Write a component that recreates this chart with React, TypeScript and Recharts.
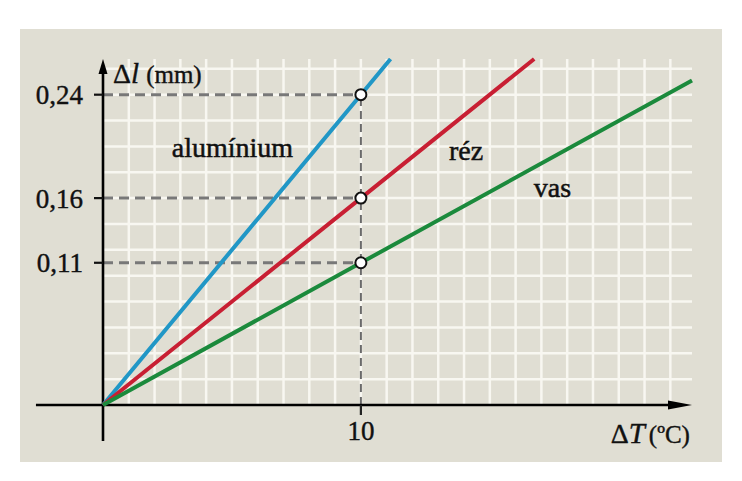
import React from 'react';
import {
  ComposedChart,
  Line,
  Scatter,
  XAxis,
  YAxis,
  CartesianGrid,
  ReferenceLine,
  ReferenceDot,
} from 'recharts';

// ---- data ----
const aluminium = [
  { t: 0, dl: 0 },
  { t: 10, dl: 0.24 },
  { t: 11.15, dl: 0.2676 },
];
const rez = [
  { t: 0, dl: 0 },
  { t: 10, dl: 0.16 },
  { t: 16.72, dl: 0.2676 },
];
const vas = [
  { t: 0, dl: 0 },
  { t: 10, dl: 0.11 },
  { t: 22.84, dl: 0.251 },
];
const marked = [
  { t: 10, dl: 0.24 },
  { t: 10, dl: 0.16 },
  { t: 10, dl: 0.11 },
];
const xTicks = [10];
const yTicks = [0.11, 0.16, 0.24];
const gridX = [1, 2, 3, 4, 5, 6, 7, 8, 9, 10, 11, 12, 13, 14, 15, 16, 17, 18, 19, 20, 21, 22];
const gridY = [0.02, 0.04, 0.06, 0.08, 0.1, 0.12, 0.14, 0.16, 0.18, 0.2, 0.22, 0.24, 0.26];
const seriesLabels = [
  { name: 'alumínium', t: 5.02, dl: 0.1918 },
  { name: 'réz', t: 14.08, dl: 0.1895 },
  { name: 'vas', t: 17.43, dl: 0.1609 },
];

const FONT = 'Liberation Serif, Times New Roman, serif';
const X_DOMAIN: [number, number] = [0, 22.84];
const Y_DOMAIN: [number, number] = [0, 0.2676];

const arrowShape = (headLen: number, headHalf: number) => (p: any) => {
  const { x1, y1, x2, y2 } = p;
  const dx = x2 - x1;
  const dy = y2 - y1;
  const L = Math.hypot(dx, dy) || 1;
  const ux = dx / L;
  const uy = dy / L;
  const bx = x2 - ux * headLen;
  const by = y2 - uy * headLen;
  const px = -uy;
  const py = ux;
  return (
    <g>
      <line x1={x1} y1={y1} x2={bx + ux * 2} y2={by + uy * 2} stroke="#000" strokeWidth={2.6} />
      <polygon
        points={`${x2},${y2} ${bx + px * headHalf},${by + py * headHalf} ${bx - px * headHalf},${by - py * headHalf}`}
        fill="#000"
      />
    </g>
  );
};

const textLabel = (name: string) => (props: any) => {
  const vb = props.viewBox || {};
  return (
    <text
      x={vb.x}
      y={vb.y}
      textAnchor="middle"
      style={{ fontFamily: FONT }}
      fontSize={28}
      fill="#111"
      stroke="#111"
      strokeWidth={0.5}
    >
      {name}
    </text>
  );
};

const dlLabel = (props: any) => {
  const vb = props.viewBox || {};
  return (
    <text x={vb.x} y={vb.y} textAnchor="start" style={{ fontFamily: FONT }} fill="#111" stroke="#111" strokeWidth={0.4}>
      <tspan fontSize={28}>Δ</tspan>
      <tspan fontSize={29} fontStyle="italic">l</tspan>
      <tspan fontSize={25} dx={7}>(mm)</tspan>
    </text>
  );
};

const dtLabel = (props: any) => {
  const vb = props.viewBox || {};
  return (
    <text x={vb.x} y={vb.y} textAnchor="end" style={{ fontFamily: FONT }} fill="#111" stroke="#111" strokeWidth={0.4}>
      <tspan fontSize={28}>Δ</tspan>
      <tspan fontSize={29} fontStyle="italic">T</tspan>
      <tspan fontSize={25} dx={4}>(ºC)</tspan>
    </text>
  );
};

const circleShape = (p: any) => (
  <circle cx={p.cx} cy={p.cy} r={5.5} fill="#fff" stroke="#111" strokeWidth={2} />
);

const fmt = (v: number) => v.toFixed(2).replace('.', ',');

const tickStyle = { fontSize: 27, fill: '#111', fontFamily: FONT, stroke: '#111', strokeWidth: 0.4 };

export default function App() {
  return (
    <div style={{ position: 'absolute', left: 0, top: 0, width: 742, height: 481, background: '#fff' }}>
      <div
        style={{
          position: 'absolute',
          left: 20,
          top: 29,
          width: 702,
          height: 433,
          background: '#e0ded3',
        }}
      />
      <div style={{ position: 'absolute', left: 0, top: 0 }}>
        <ComposedChart width={742} height={481} margin={{ top: 59, right: 50, bottom: 36, left: 23 }}>
          <CartesianGrid
            horizontalValues={gridY}
            verticalValues={gridX}
            stroke="#f8f7f1"
            strokeWidth={2.5}
            fill="none"
          />
          <XAxis
            type="number"
            dataKey="t"
            domain={X_DOMAIN}
            ticks={xTicks}
            interval={0}
            height={40}
            axisLine={false}
            tickLine={{ stroke: '#222', strokeWidth: 2.2 }}
            tickSize={10}
            tickMargin={6}
            tick={tickStyle}
          />
          <YAxis
            type="number"
            dataKey="dl"
            domain={Y_DOMAIN}
            ticks={yTicks}
            interval={0}
            width={80}
            axisLine={false}
            tickLine={{ stroke: '#111', strokeWidth: 2.2 }}
            tickSize={9}
            tickMargin={11}
            tickFormatter={fmt}
            tick={tickStyle}
          />
          {yTicks.map((v) => (
            <ReferenceLine
              key={'h' + v}
              segment={[
                { x: 0, y: v },
                { x: 10, y: v },
              ]}
              stroke="#787878"
              strokeWidth={3}
              strokeDasharray="10 6"
              ifOverflow="visible"
            />
          ))}
          <ReferenceLine
            segment={[
              { x: 10, y: 0 },
              { x: 10, y: 0.24 },
            ]}
            stroke="#6a6a6a"
            strokeWidth={2}
            strokeDasharray="8 5"
            ifOverflow="visible"
          />
          <ReferenceLine
            segment={[
              { x: -2.6, y: 0 },
              { x: 22.84, y: 0 },
            ]}
            ifOverflow="visible"
            shape={arrowShape(24, 4.5)}
          />
          <ReferenceLine
            segment={[
              { x: 0, y: -0.0278 },
              { x: 0, y: 0.2676 },
            ]}
            ifOverflow="visible"
            shape={arrowShape(15, 4.5)}
          />
          <Line data={aluminium} dataKey="dl" stroke="#2197c6" strokeWidth={4} dot={false} isAnimationActive={false} />
          <Line data={rez} dataKey="dl" stroke="#c81f33" strokeWidth={4} dot={false} isAnimationActive={false} />
          <Line data={vas} dataKey="dl" stroke="#1b8a3c" strokeWidth={4} dot={false} isAnimationActive={false} />
          <Scatter data={marked} dataKey="dl" shape={circleShape} isAnimationActive={false} />
          {seriesLabels.map((s) => (
            <ReferenceDot
              key={s.name}
              x={s.t}
              y={s.dl}
              r={0}
              fill="none"
              stroke="none"
              ifOverflow="visible"
              label={textLabel(s.name)}
            />
          ))}
          <ReferenceDot x={0.39} y={0.249} r={0} fill="none" stroke="none" ifOverflow="visible" label={dlLabel} />
          <ReferenceDot x={22.76} y={-0.0294} r={0} fill="none" stroke="none" ifOverflow="visible" label={dtLabel} />
        </ComposedChart>
      </div>
    </div>
  );
}
